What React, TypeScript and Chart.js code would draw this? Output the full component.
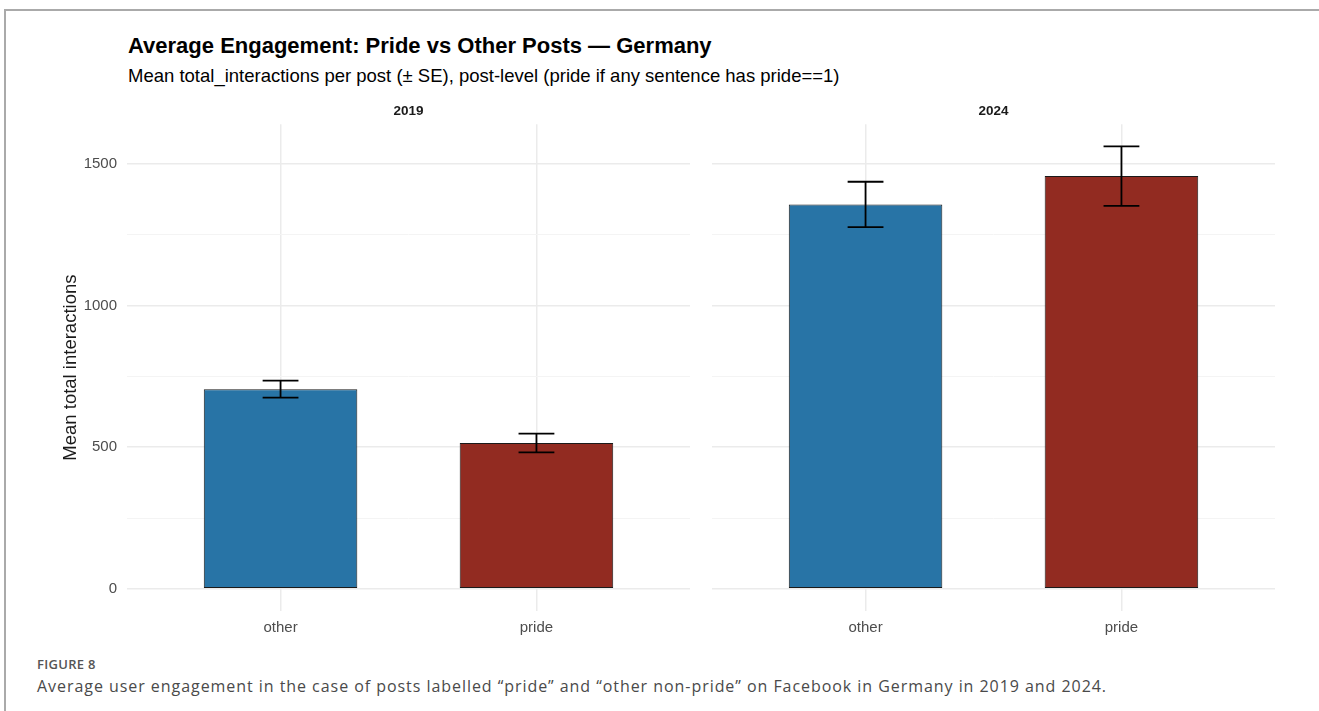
import React, { useEffect, useRef } from 'react';
import { Chart, registerables } from 'chart.js';

Chart.register(...registerables);

// ---------- data ----------
const categories = ['other', 'pride'];
const panelYears = ['2019', '2024'];
const mean2019 = [705, 515];
const se2019 = [30, 33];
const mean2024 = [1357, 1457];
const se2024 = [80, 105];
const barColors = ['#2874A6', '#922B21'];
const yMajorTicks = [0, 500, 1000, 1500];
const yMinorTicks = [250, 750, 1250];

const titleText = 'Average Engagement: Pride vs Other Posts — Germany';
const subtitleText = 'Mean total_interactions per post (± SE), post-level (pride if any sentence has pride==1)';
const yAxisTitle = 'Mean total interactions';
const figureLabel = 'FIGURE 8';
const captionText =
  'Average user engagement in the case of posts labelled “pride” and “other non-pride” on Facebook in Germany in 2019 and 2024.';

// ---------- scale limits (ggplot-like 5% expansion) ----------
const upperAll = Math.max(
  ...mean2019.map((m, i) => m + se2019[i]),
  ...mean2024.map((m, i) => m + se2024[i])
);
const yPad = upperAll * 0.05;
const yMin = -yPad;
const yMax = upperAll + yPad;
const yGridValues = [...yMajorTicks, ...yMinorTicks].sort((a, b) => a - b);

const FONT = '"Liberation Sans", Arial, Helvetica, sans-serif';
const CAP_HALF = 0.07;

function makeErrorBarPlugin(means: number[], ses: number[]) {
  return {
    id: 'errorBars',
    afterDatasetsDraw(chart: any) {
      const { ctx } = chart;
      const x = chart.scales.x;
      const y = chart.scales.y;
      ctx.save();
      ctx.strokeStyle = '#000000';
      ctx.lineWidth = 1.8;
      ctx.lineCap = 'butt';
      means.forEach((m, i) => {
        const cx = x.getPixelForValue(i + 1);
        const x0 = x.getPixelForValue(i + 1 - CAP_HALF);
        const x1 = x.getPixelForValue(i + 1 + CAP_HALF);
        const yt = y.getPixelForValue(m + ses[i]);
        const yb = y.getPixelForValue(m - ses[i]);
        ctx.beginPath();
        ctx.moveTo(cx, yt);
        ctx.lineTo(cx, yb);
        ctx.moveTo(x0, yt);
        ctx.lineTo(x1, yt);
        ctx.moveTo(x0, yb);
        ctx.lineTo(x1, yb);
        ctx.stroke();
      });
      ctx.restore();
    },
  };
}

function Panel(props: {
  year: string;
  means: number[];
  ses: number[];
  showY: boolean;
  left: number;
  width: number;
}) {
  const ref = useRef<HTMLCanvasElement | null>(null);
  const { year, means, ses, showY, left, width } = props;
  useEffect(() => {
    if (!ref.current) return;
    const chart = new Chart(ref.current, {
      type: 'bar',
      data: {
        datasets: [
          {
            data: means.map((m, i) => ({ x: i + 1, y: m })),
            backgroundColor: barColors,
            borderColor: '#1a1a1a',
            borderWidth: 1,
            borderSkipped: false,
            barPercentage: 0.6,
            categoryPercentage: 1.0,
          } as any,
        ],
      },
      options: {
        animation: false,
        responsive: false,
        maintainAspectRatio: false,
        layout: { padding: { left: 0, right: 10, top: 0, bottom: 0 } },
        plugins: {
          legend: { display: false },
          tooltip: { enabled: false },
          title: {
            display: true,
            text: year,
            fullSize: false,
            color: '#1a1a1a',
            font: { family: FONT, size: 13.5, weight: 'bold' },
            padding: { top: 8, bottom: 5 },
          },
        },
        scales: {
          x: {
            type: 'linear',
            offset: false,
            min: 0.4,
            max: 2.6,
            afterBuildTicks: (axis: any) => {
              axis.ticks = categories.map((_, i) => ({ value: i + 1 }));
            },
            afterFit: (s: any) => {
              s.height = 40;
            },
            ticks: {
              autoSkip: false,
              maxRotation: 0,
              padding: 8,
              color: '#4d4d4d',
              font: { family: FONT, size: 15 },
              callback: (_v: any, idx: number) => categories[idx],
            },
            grid: { color: '#ebebeb', lineWidth: 1.5, drawTicks: false, offset: false },
            border: { display: false },
          },
          y: {
            type: 'linear',
            min: yMin,
            max: yMax,
            afterBuildTicks: (axis: any) => {
              axis.ticks = yGridValues.map((v) => ({ value: v }));
            },
            afterFit: (s: any) => {
              s.width = showY ? 77 : 0;
            },
            ticks: {
              display: showY,
              padding: 10,
              color: '#4d4d4d',
              font: { family: FONT, size: 15 },
              callback: (v: any) => (yMajorTicks.includes(v) ? String(v) : ''),
            },
            grid: {
              color: (c: any) => (yMajorTicks.includes(c.tick?.value) ? '#ebebeb' : '#f4f4f4'),
              lineWidth: (c: any) => (yMajorTicks.includes(c.tick?.value) ? 1.5 : 1),
              drawTicks: false,
            },
            border: { display: false },
            title: {
              display: showY,
              text: yAxisTitle,
              color: '#1a1a1a',
              font: { family: FONT, size: 18.5 },
              padding: { top: 10, bottom: 0 },
            },
          },
        },
      } as any,
      plugins: [makeErrorBarPlugin(means, ses)],
    });
    return () => chart.destroy();
  }, []);
  return (
    <canvas
      ref={ref}
      width={width}
      height={556}
      style={{ position: 'absolute', left, top: 95, width, height: 556 }}
    />
  );
}

export default function App() {
  return (
    <div
      style={{
        position: 'absolute',
        left: 0,
        top: 0,
        width: 1319,
        height: 711,
        background: '#ffffff',
        overflow: 'hidden',
        fontFamily: FONT,
      }}
    >
      <div
        style={{
          position: 'absolute',
          left: 4,
          top: 9,
          width: 1315,
          height: 702,
          boxSizing: 'border-box',
          borderTop: '2px solid #aaaaaa',
          borderLeft: '2px solid #aaaaaa',
        }}
      />
      <div
        style={{
          position: 'absolute',
          left: 128,
          top: 33,
          fontSize: 22,
          lineHeight: '26px',
          fontWeight: 'bold',
          color: '#000',
          whiteSpace: 'nowrap',
        }}
      >
        {titleText}
      </div>
      <div
        style={{
          position: 'absolute',
          left: 128,
          top: 65,
          fontSize: 18.5,
          lineHeight: '22px',
          color: '#000',
          whiteSpace: 'nowrap',
        }}
      >
        {subtitleText}
      </div>
      <Panel year={panelYears[0]} means={mean2019} ses={se2019} showY={true} left={50} width={650} />
      <Panel year={panelYears[1]} means={mean2024} ses={se2024} showY={false} left={712} width={573} />
      <div
        style={{
          position: 'absolute',
          left: 37,
          top: 656,
          fontFamily: '"Open Sans", sans-serif',
          fontSize: 13,
          fontWeight: 600,
          letterSpacing: '0.3px',
          lineHeight: '16px',
          color: '#555555',
          whiteSpace: 'nowrap',
        }}
      >
        {figureLabel}
      </div>
      <div
        style={{
          position: 'absolute',
          left: 37,
          top: 676,
          fontFamily: '"Open Sans", sans-serif',
          fontSize: 16,
          letterSpacing: '0.95px',
          lineHeight: '20px',
          color: '#4a4a4a',
          whiteSpace: 'nowrap',
        }}
      >
        {captionText}
      </div>
    </div>
  );
}
